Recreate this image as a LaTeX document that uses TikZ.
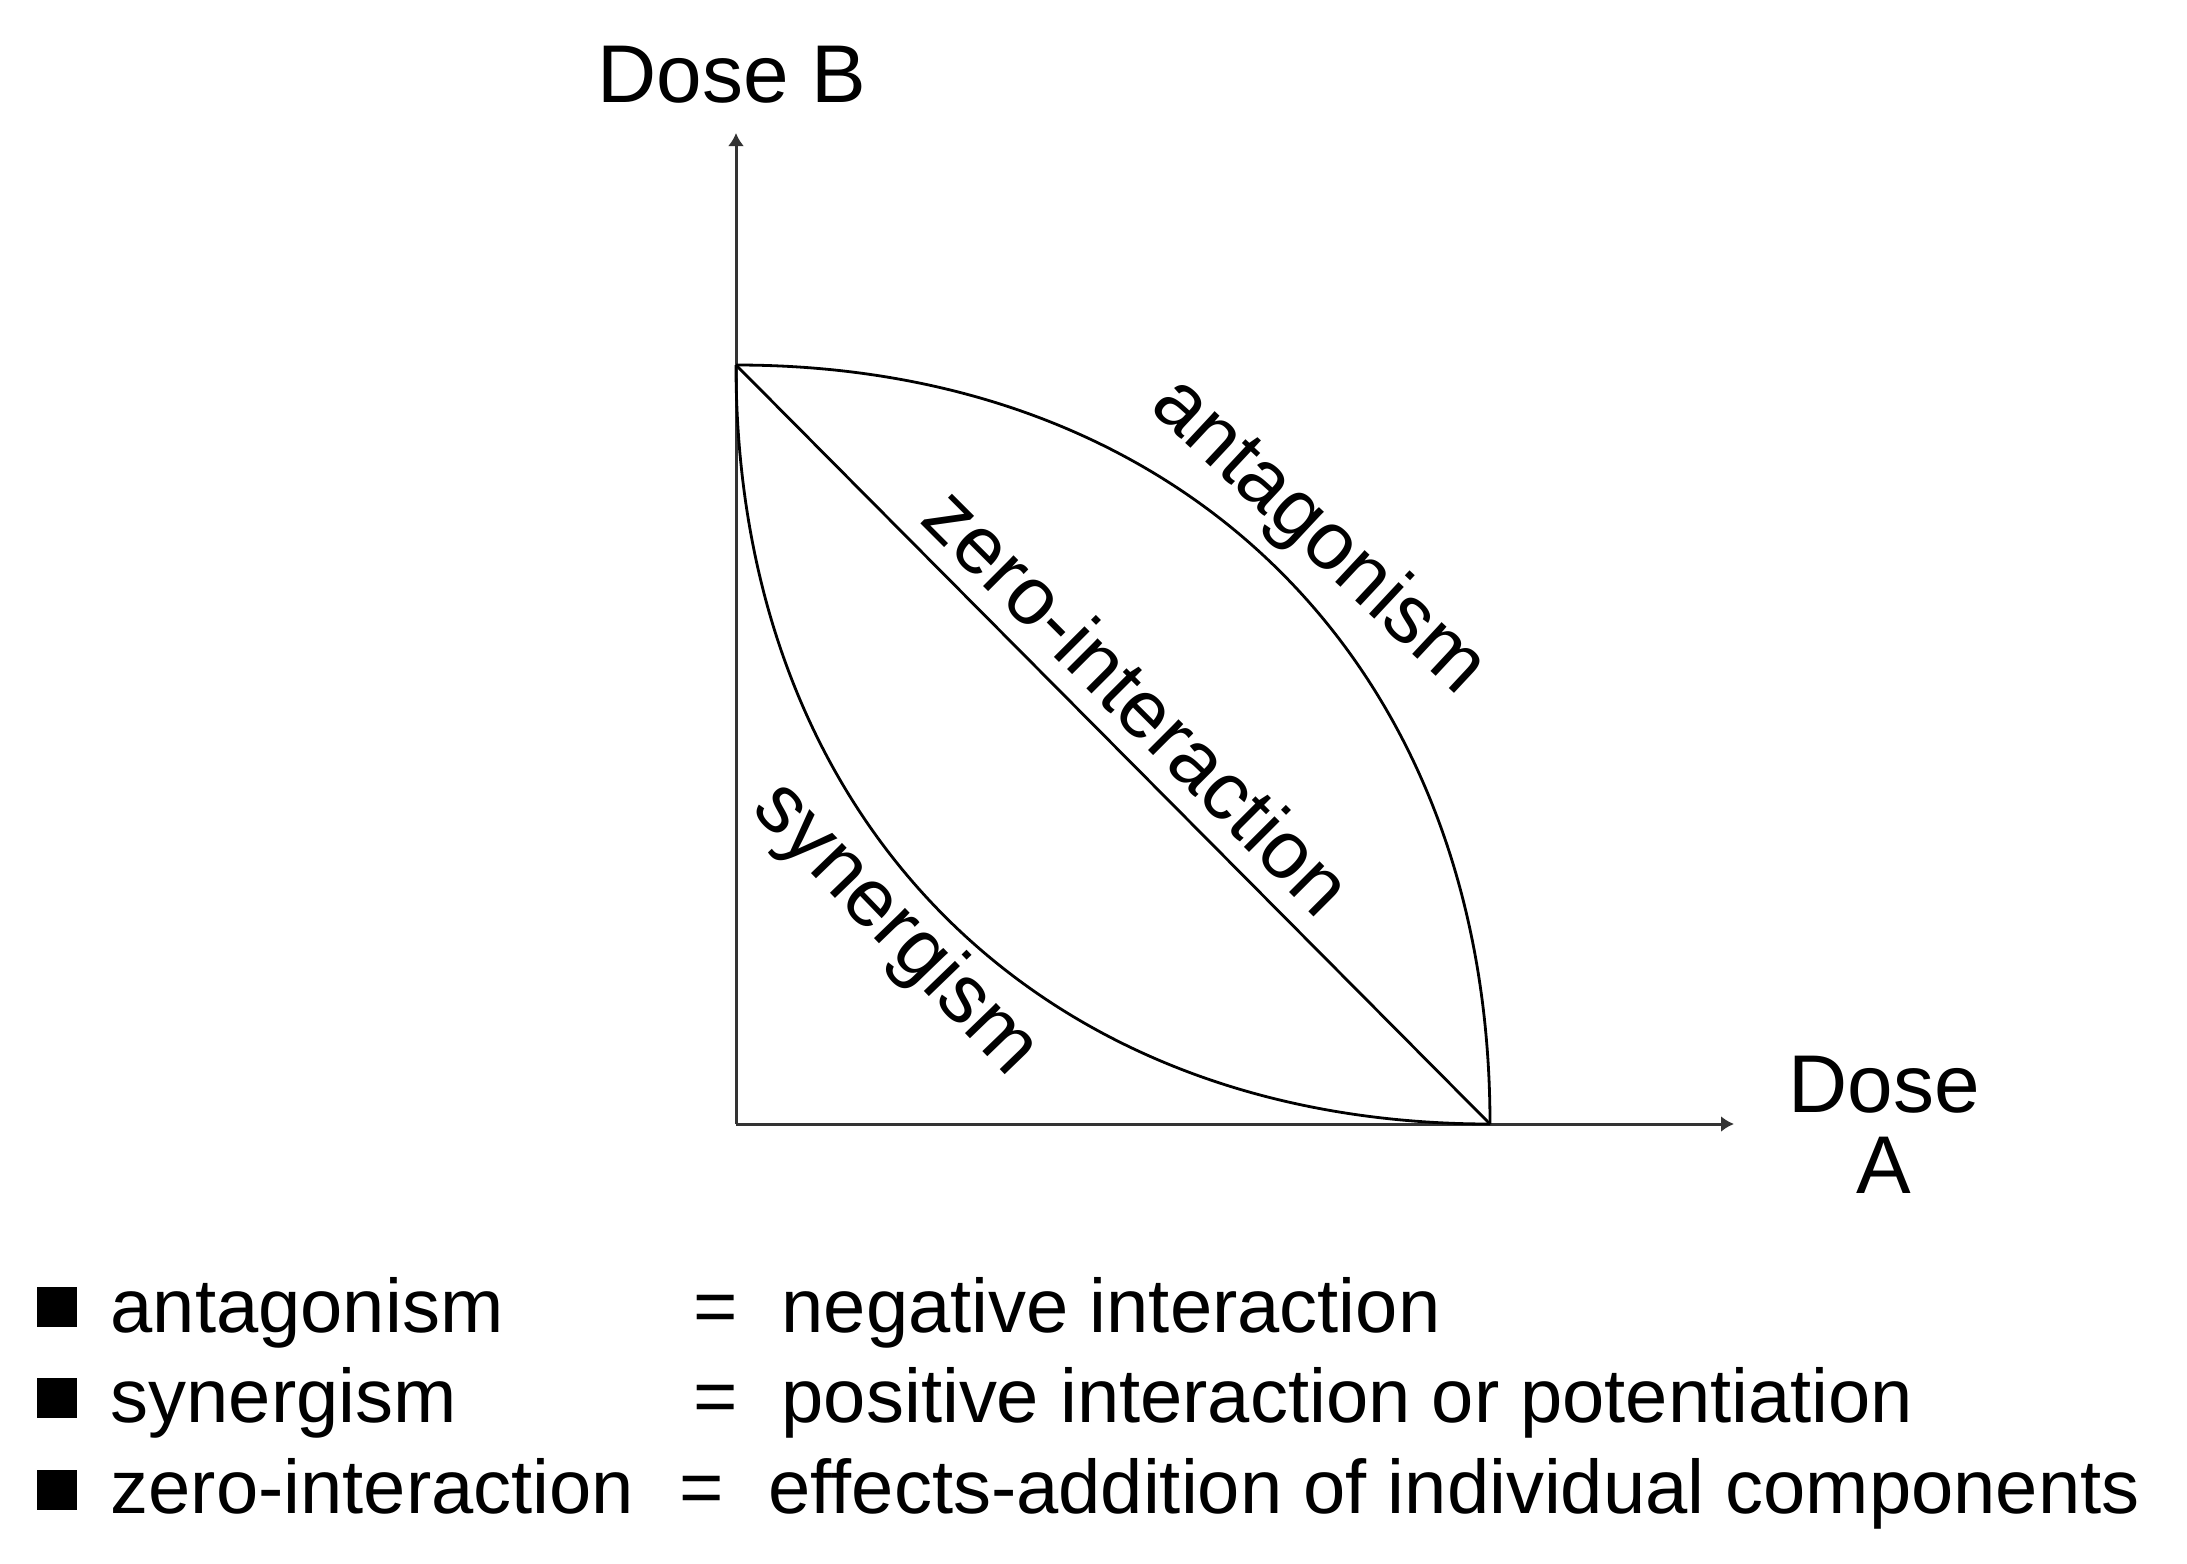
\documentclass[tikz,border=0pt]{standalone}
\usepackage{fontspec}
\setmainfont{Liberation Sans}
\usetikzlibrary{arrows.meta}
\begin{document}
\begin{tikzpicture}[x=0.01cm,y=-0.01cm,
  axisline/.style={line width=0.03cm, draw=black!80, -{Latex[length=0.13cm,width=0.16cm]}},
  curveline/.style={line width=0.028cm},
  lbl/.style={font=\fontsize{23.3}{28}\selectfont, inner sep=0pt},
  leg/.style={font=\fontsize{21.6}{26}\selectfont, inner sep=0pt, anchor=base west},
  bulletbox/.style={fill=black, minimum size=0.4cm, inner sep=0pt}]
\useasboundingbox (0,0) rectangle (2187,1563);

% axes
\coordinate (O) at (736,1124);
\coordinate (Yt) at (736,133);
\coordinate (Xt) at (1734,1124);
\coordinate (B) at (736,365);
\coordinate (A) at (1490,1124);
\draw[axisline] (O) -- (Yt);
\draw[axisline] (O) -- (Xt);

% curves
\draw[curveline] (B) .. controls (1188,365) and (1490,669) .. (A);
\draw[curveline] (B) -- (A);
\draw[curveline] (B) .. controls (736,820) and (1038,1124) .. (A);

% axis labels
\node[lbl, anchor=base] (doseB) at (732,102) {Dose B};
\node[lbl, anchor=base] (doseA1) at (1884,1112) {Dose};
\node[lbl, anchor=base] (doseA2) at (1884,1193) {A};

% curve labels
\node[lbl, rotate=-43] (lanta) at (1318,537) {antagonism};
\node[lbl, rotate=-45] (lzero) at (1139,700) {zero-interaction};
\node[lbl, rotate=-46] (lsyn) at (895,930) {synergism};

% legend
\node[bulletbox] (b1) at (57,1307) {};
\node[leg] (t1) at (110,1332) {antagonism};
\node[leg] (e1) at (693,1332) {=};
\node[leg] (d1) at (781,1332) {negative interaction};

\node[bulletbox] (b2) at (57,1398) {};
\node[leg] (t2) at (110,1422) {synergism};
\node[leg] (e2) at (693,1422) {=};
\node[leg] (d2) at (781,1422) {positive interaction or potentiation};

\node[bulletbox] (b3) at (57,1490) {};
\node[leg] (t3) at (110,1513) {zero-interaction};
\node[leg] (e3) at (679,1513) {=};
\node[leg] (d3) at (768,1513) {effects-addition of individual components};
\end{tikzpicture}
\end{document}
